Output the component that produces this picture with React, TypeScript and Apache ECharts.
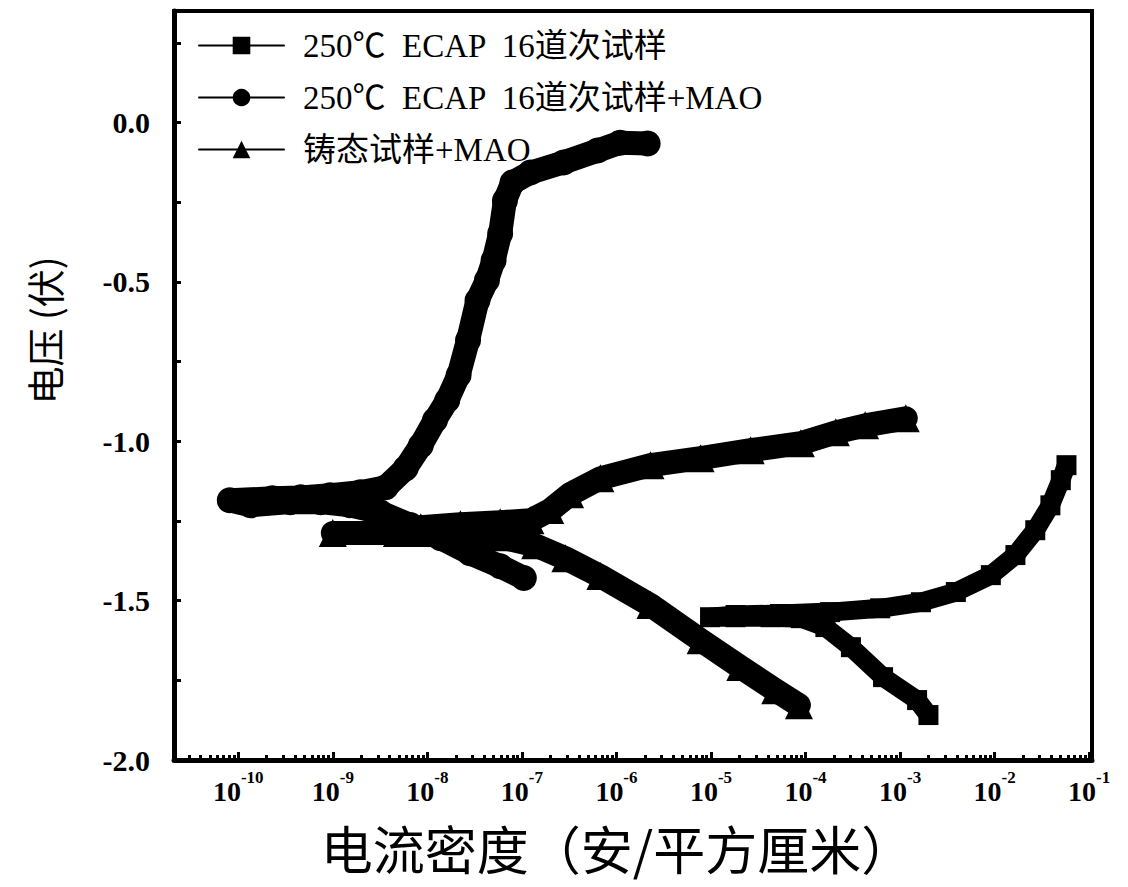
import React, { useEffect, useRef } from "react";
import * as echarts from "echarts";

// Legend names
const seriesNames = ["250℃  ECAP  16道次试样", "250℃  ECAP  16道次试样+MAO", "铸态试样+MAO"];

// Series 1: 250℃ ECAP 16 passes — log10(current density A/cm²) and potential (V)
const ecapLogI = [-2.70, -2.82, -3.18, -3.52, -3.79, -4.05, -4.37, -4.74, -5.01, -4.74, -4.27, -3.74, -3.21, -2.78, -2.41, -2.04, -1.78, -1.57, -1.41, -1.30, -1.24];
const ecapE = [-1.859, -1.812, -1.740, -1.646, -1.583, -1.555, -1.552, -1.552, -1.552, -1.545, -1.542, -1.536, -1.524, -1.505, -1.473, -1.420, -1.357, -1.279, -1.201, -1.122, -1.075];

// Series 2: 250℃ ECAP 16 passes + MAO
const ecapMaoLogI = [-6.98, -7.23, -7.55, -7.86, -8.18, -8.50, -8.82, -9.13, -9.45, -9.87, -10.09, -9.64, -9.34, -9.03, -8.71, -8.44, -8.23, -8.07, -7.92, -7.79, -7.67, -7.57, -7.47, -7.37, -7.30, -7.23, -7.18, -7.10, -6.91, -6.56, -6.20, -5.96, -5.67];
const ecapMaoE = [-1.429, -1.392, -1.351, -1.304, -1.263, -1.223, -1.201, -1.191, -1.191, -1.201, -1.185, -1.179, -1.176, -1.169, -1.160, -1.144, -1.085, -1.013, -0.934, -0.871, -0.793, -0.683, -0.558, -0.495, -0.433, -0.348, -0.245, -0.188, -0.157, -0.125, -0.088, -0.063, -0.066];

// Series 3: as-cast + MAO
const castMaoLogI = [-4.07, -4.32, -4.69, -5.11, -5.64, -6.17, -6.54, -6.86, -7.23, -7.65, -8.07, -8.32, -9.00, -8.32, -8.07, -7.65, -7.23, -6.91, -6.70, -6.49, -6.17, -5.64, -5.11, -4.58, -4.05, -3.68, -3.37, -2.94];
const castMaoE = [-1.828, -1.781, -1.708, -1.624, -1.514, -1.423, -1.367, -1.326, -1.301, -1.292, -1.288, -1.288, -1.288, -1.288, -1.270, -1.260, -1.254, -1.248, -1.216, -1.166, -1.116, -1.075, -1.053, -1.028, -1.006, -0.972, -0.950, -0.928];

// Axis ticks
const xMajorExponents = [-10, -9, -8, -7, -6, -5, -4, -3, -2, -1];
const xMinorMultipliers = [2, 3, 4, 5, 6, 7, 8, 9];
const yTickLabels = [-2.0, -1.5, -1.0, -0.5, 0.0];
const yTicks = [-2.0, -1.75, -1.5, -1.25, -1.0, -0.75, -0.5, -0.25, 0.0, 0.25];

const X_MIN = -10.68;
const X_MAX = -0.97;
const Y_MIN = -2.0;
const Y_MAX = 0.35;

const zip = (a: number[], b: number[]) => a.map((v, i) => [v, b[i]]);

export default function App() {
  const ref = useRef<HTMLDivElement>(null);
  useEffect(() => {
    if (!ref.current) return;
    const chart = echarts.init(ref.current, null, { renderer: "svg" });
    const minorTicks: number[] = [];
    for (let n = -11; n <= -1; n++) {
      for (const k of xMinorMultipliers) {
        const v = n + Math.log10(k);
        if (v > X_MIN && v < X_MAX) minorTicks.push(v);
      }
    }
    const serif = '"Liberation Serif", "Times New Roman", serif';
    const cjk = '"Liberation Serif", "Noto Sans CJK SC", serif';
    const lineBase = (name: string, data: number[][], symbol: string, size: number, width: number) => ({
      type: "line",
      name,
      data,
      symbol,
      symbolSize: size,
      showSymbol: true,
      xAxisIndex: 0,
      yAxisIndex: 0,
      itemStyle: { color: "#000" },
      lineStyle: { color: "#000", width, cap: "round", join: "round" },
      emphasis: { disabled: true },
    });
    chart.setOption({
      animation: false,
      backgroundColor: "#fff",
      grid: {
        left: 174,
        right: 36,
        top: 11,
        bottom: 127,
        show: true,
        borderColor: "#000",
        borderWidth: 4,
        backgroundColor: "transparent",
        outerBoundsMode: "none",
        containLabel: false,
      },
      legend: {
        orient: "vertical",
        left: 193,
        top: 24,
        itemWidth: 85,
        itemHeight: 22,
        itemGap: 19,
        data: seriesNames,
        lineStyle: { width: 2 },
        textStyle: {
          fontFamily: cjk,
          fontSize: 33,
          color: "#000",
          padding: [0, 0, 0, 14],
        },
      },
      xAxis: [
        {
          type: "value",
          min: X_MIN,
          max: X_MAX,
          position: "bottom",
          axisLine: { show: true, onZero: false, lineStyle: { color: "#000", width: 5 } },
          splitLine: { show: false },
          axisTick: {
            show: true,
            inside: true,
            length: 8,
            lineStyle: { color: "#000", width: 3 },
            customValues: xMajorExponents,
          },
          axisLabel: {
            show: true,
            margin: 9,
            customValues: xMajorExponents,
            formatter: (v: number) => `{b|10}{s|${Math.round(v)}}`,
            rich: {
              b: { fontFamily: serif, fontWeight: "bold", fontSize: 28, color: "#000", padding: [8, 0, 0, 0] },
              s: { fontFamily: serif, fontWeight: "bold", fontSize: 17, color: "#000", verticalAlign: "top" },
            },
          },
          name: "电流密度（安/平方厘米）",
          nameLocation: "middle",
          nameGap: 60,
          nameTextStyle: {
            fontFamily: '"Noto Sans CJK SC", sans-serif',
            fontSize: 52,
            lineHeight: 54,
            color: "#000",
            padding: [0, 32, 0, 0],
          },
        },
        {
          type: "value",
          min: X_MIN,
          max: X_MAX,
          position: "bottom",
          axisLine: { show: false, onZero: false },
          splitLine: { show: false },
          axisLabel: { show: false },
          axisTick: {
            show: true,
            inside: true,
            length: 5,
            lineStyle: { color: "#000", width: 3 },
            customValues: minorTicks,
          },
        },
      ],
      yAxis: {
        type: "value",
        min: Y_MIN,
        max: Y_MAX,
        interval: 0.5,
        axisLine: { show: true, onZero: false, lineStyle: { color: "#000", width: 5 } },
        splitLine: { show: false },
        axisTick: {
          show: true,
          inside: true,
          length: 7,
          lineStyle: { color: "#000", width: 3 },
          customValues: yTicks,
        },
        axisLabel: {
          show: true,
          margin: 24,
          customValues: yTickLabels,
          formatter: (v: number) => v.toFixed(1),
          fontFamily: serif,
          fontWeight: "bold",
          fontSize: 30,
          color: "#000",
        },
        name: "电压 (伏)",
        nameLocation: "middle",
        nameGap: 112,
        nameTextStyle: {
          fontFamily: '"Noto Sans CJK SC", sans-serif',
          fontSize: 38,
          color: "#000",
          padding: [0, 0, 0, 110],
        },
      },
      series: [
        lineBase(seriesNames[0], zip(ecapLogI, ecapE), "rect", 20, 19),
        lineBase(seriesNames[1], zip(ecapMaoLogI, ecapMaoE), "circle", 26, 24),
        lineBase(seriesNames[2], zip(castMaoLogI, castMaoE), "triangle", 28, 24),
      ],
    });
    return () => chart.dispose();
  }, []);
  return (
    <div
      ref={ref}
      style={{ position: "absolute", left: 0, top: 0, width: 1128, height: 887, background: "#fff" }}
    />
  );
}
